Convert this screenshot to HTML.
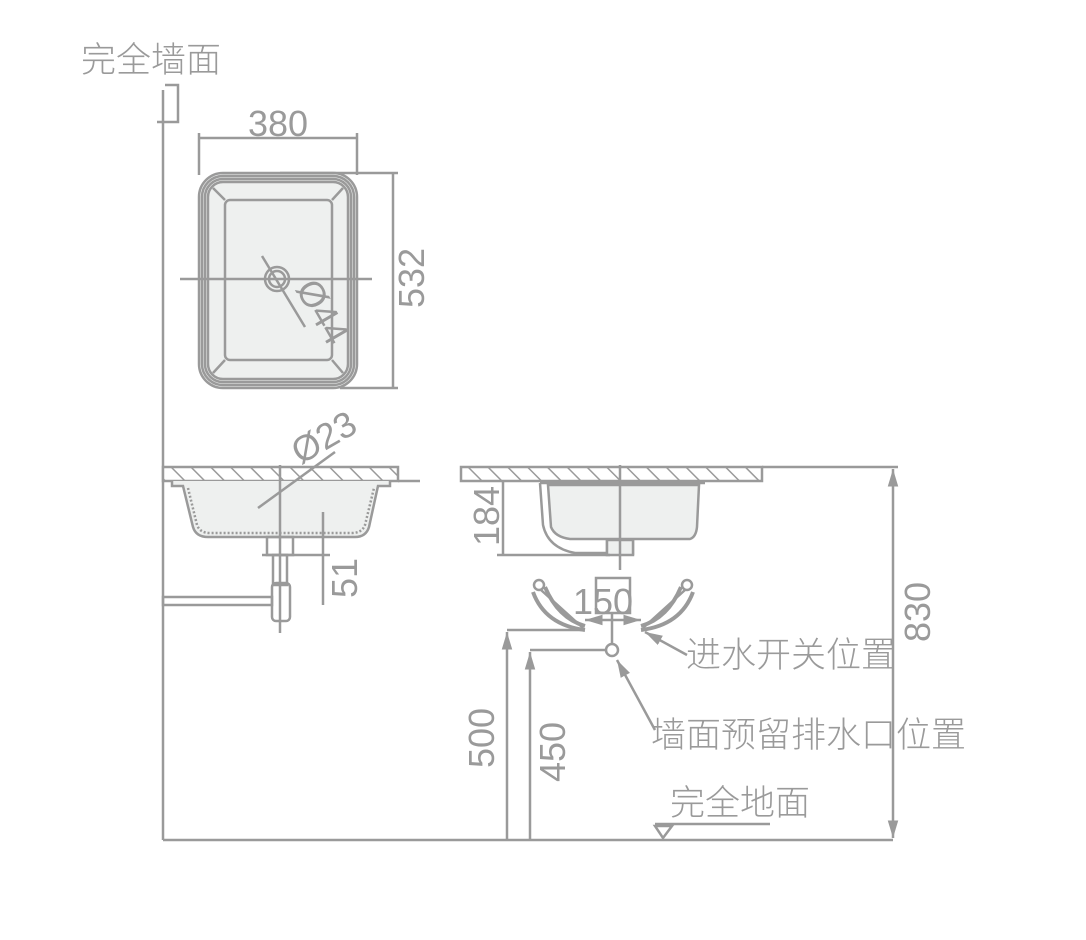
<!DOCTYPE html>
<html><head><meta charset="utf-8"><style>
html,body{margin:0;padding:0;background:#fff;}
svg{display:block}
text{font-family:"Liberation Sans","Noto Sans CJK SC",sans-serif;fill:#9a9a9a;}
.c{font-family:"Noto Sans CJK SC",sans-serif;font-weight:300;font-size:35px;}
</style></head><body>
<svg width="1086" height="940" viewBox="0 0 1086 940" xmlns="http://www.w3.org/2000/svg">
<defs>
<pattern id="h" width="14" height="14" patternUnits="userSpaceOnUse" patternTransform="rotate(-45)">
<rect width="14" height="14" fill="#fff"/><line x1="0" y1="0" x2="0" y2="14" stroke="#9a9a9a" stroke-width="3"/></pattern>
<marker id="a" viewBox="0 0 10 10" refX="10" refY="5" markerWidth="7" markerHeight="7" orient="auto-start-reverse"><path d="M0,2 L10,5 L0,8z" fill="#9a9a9a"/></marker>
</defs>
<g stroke="#9a9a9a" stroke-width="2.5" fill="none">
<line x1="163" y1="90" x2="163" y2="840"/>
<line x1="163" y1="840" x2="893" y2="840"/>
<path d="M165,85 H178 V122 H157"/>
<line x1="199" y1="133" x2="199" y2="175"/><line x1="357" y1="133" x2="357" y2="175"/>
<line x1="199" y1="138" x2="357" y2="138"/>
<line x1="280" y1="173" x2="398" y2="173"/><line x1="340" y1="388" x2="398" y2="388"/>
<line x1="393" y1="173" x2="393" y2="388"/>
<rect x="199" y="173" width="158" height="215" rx="24" fill="#eef0ef"/>
<rect x="202" y="176" width="152" height="209" rx="21"/>
<rect x="205" y="179" width="146" height="203" rx="18"/>
<rect x="208" y="182" width="140" height="197" rx="15"/>
<rect x="225" y="200" width="107" height="160" rx="5"/>
<path d="M213,188 L225,200 M343,188 L332,200 M213,373 L225,360 M343,373 L332,360"/>
<line x1="180" y1="279" x2="372" y2="279"/>
<circle cx="277" cy="279" r="12"/><circle cx="277" cy="279" r="8"/>
<line x1="262" y1="256" x2="305" y2="327"/>
<rect x="163" y="467" width="235" height="14" fill="url(#h)"/>
<line x1="398" y1="481" x2="420" y2="481"/>
<path d="M172,481 V486 H183 L193,527 Q196,537 208,537 H355 Q366,537 369,527 L378,486 H390 V481" fill="#eef0ef"/>
<path d="M188,488 L197,525 Q200,533 210,533 H352 Q362,533 365,525 L374,488" stroke-dasharray="2 2"/>
<rect x="267" y="537" width="26" height="18"/>
<line x1="262" y1="555" x2="330" y2="555"/>
<rect x="273" y="555" width="14" height="30"/>
<rect x="272" y="583" width="18" height="38" rx="4"/>
<rect x="163" y="597" width="109" height="8"/>
<line x1="280" y1="465" x2="280" y2="633"/>
<line x1="323" y1="512" x2="323" y2="605"/>
<line x1="258" y1="508" x2="335" y2="452"/>
<rect x="461" y="467" width="301" height="14" fill="url(#h)"/>
<path d="M540,483 L543,525 Q548,548 575,553 H607 V540 H633 V555" />
<path d="M548,485 L551,527 Q555,537 570,539 H690 Q696,537 697,527 L699,485 Z" fill="#eef0ef"/>
<line x1="540" y1="483" x2="705" y2="483"/>
<rect x="607" y="540" width="26" height="15" fill="#eef0ef"/>
<line x1="620" y1="465" x2="620" y2="570"/>
<line x1="503" y1="481" x2="503" y2="555"/>
<line x1="497" y1="555" x2="610" y2="555"/>
<path d="M533,592 Q545,625 585,630 M545,587 Q558,618 585,626" stroke-width="4"/>
<path d="M693,592 Q681,625 641,630 M681,587 Q668,618 641,626" stroke-width="4"/>
<circle cx="539" cy="585" r="5"/><circle cx="687" cy="585" r="5"/>
<line x1="541" y1="590" x2="583" y2="628"/><line x1="685" y1="590" x2="643" y2="628"/>
<rect x="596" y="578" width="34" height="35" fill="#fff"/>
<line x1="585" y1="620" x2="641" y2="620" marker-start="url(#a)" marker-end="url(#a)"/>
<line x1="612" y1="612" x2="612" y2="645"/>
<circle cx="612" cy="650" r="6"/>
<line x1="507" y1="630" x2="583" y2="630"/>
<line x1="530" y1="650" x2="606" y2="650"/>
<line x1="507" y1="840" x2="507" y2="632" marker-end="url(#a)"/>
<line x1="530" y1="840" x2="530" y2="652" marker-end="url(#a)"/>
<line x1="762" y1="467" x2="898" y2="467"/>
<line x1="893" y1="469" x2="893" y2="838" marker-start="url(#a)" marker-end="url(#a)"/>
<line x1="687" y1="655" x2="645" y2="632" marker-end="url(#a)"/>
<line x1="655" y1="730" x2="617" y2="660" marker-end="url(#a)"/>
<line x1="655" y1="824" x2="770" y2="824"/>
<path d="M655,826 H672 L663,838 Z"/>
</g>
<g font-size="36">
<text class="c" x="81" y="72">完全墙面</text>
<text x="278" y="136" text-anchor="middle">380</text>
<text transform="translate(424,278) rotate(-90)" text-anchor="middle">532</text>
<text transform="translate(312,318) rotate(60)" text-anchor="middle">Ø44</text>
<text transform="translate(330,448) rotate(-30)" text-anchor="middle">Ø23</text>
<text transform="translate(357,578) rotate(-90)" text-anchor="middle">51</text>
<text transform="translate(499,516) rotate(-90)" text-anchor="middle">184</text>
<text x="603" y="614" text-anchor="middle">150</text>
<text transform="translate(494,738) rotate(-90)" text-anchor="middle">500</text>
<text transform="translate(565,752) rotate(-90)" text-anchor="middle">450</text>
<text transform="translate(930,612) rotate(-90)" text-anchor="middle">830</text>
<text class="c" x="686" y="667">进水开关位置</text>
<text class="c" x="651" y="747">墙面预留排水口位置</text>
<text class="c" x="670" y="815">完全地面</text>
</g>
</svg>
</body></html>
